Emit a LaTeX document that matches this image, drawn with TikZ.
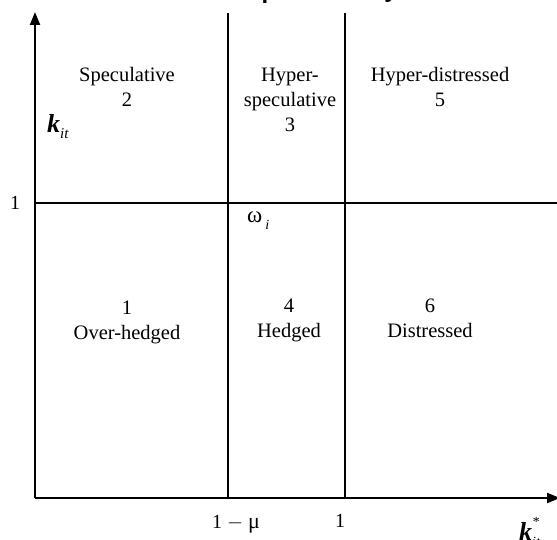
\documentclass[tikz,border=0pt]{standalone}
\usepackage{fontspec}
\setmainfont{Liberation Serif}
\newfontfamily\titlefont{Liberation Sans}
\usetikzlibrary{arrows.meta}
\begin{document}
\begin{tikzpicture}[x=1pt,y=-1pt,
  ax/.style={line width=2.2pt,-{Triangle[length=13pt,width=10pt]}},
  gl/.style={line width=2pt},
  lab/.style={font=\fontsize{20.5}{25}\selectfont,align=center,inner sep=0pt,anchor=base},
  tick/.style={font=\fontsize{20}{20}\selectfont,inner sep=0pt,anchor=base}]
\useasboundingbox (0,0) rectangle (557,540);
\begin{scope}
\clip (0,0) rectangle (557,8);
\node[font=\titlefont\bfseries\fontsize{24}{24}\selectfont,inner sep=0pt,anchor=base] (tp) at (269,-1) {p};
\node[font=\titlefont\bfseries\fontsize{24}{24}\selectfont,inner sep=0pt,anchor=base] (ty) at (391,-2) {y};
\end{scope}
\coordinate (o) at (35,498);
\coordinate (ytop) at (35,12);
\coordinate (xend) at (560,498);
\coordinate (v1t) at (228,13);
\coordinate (v1b) at (228,498);
\coordinate (v2t) at (345,13);
\coordinate (v2b) at (345,498);
\coordinate (hl) at (35,203);
\coordinate (hr) at (557,203);
\draw[ax] (o) -- (ytop);
\draw[ax] (o) -- (xend);
\draw[gl] (v1t) -- (v1b);
\draw[gl] (v2t) -- (v2b);
\draw[gl] (hl) -- (hr);
\node[tick] (one) at (15,210) {1};
\node[inner sep=0pt,anchor=base west] (kit) at (47,133) {\fontsize{26}{26}\selectfont\bfseries\itshape k\raisebox{-6pt}{\fontsize{15}{15}\selectfont\mdseries\itshape it}};
\node[tick] (omu) at (236,528) {1 $-$ \fontsize{22}{22}\selectfont μ};
\node[tick] (onex) at (340,527) {1};
\node[inner sep=0pt,anchor=base west] (kst) at (519,540) {\fontsize{26}{26}\selectfont\bfseries\itshape k\raisebox{14pt}{\fontsize{14}{14}\selectfont\mdseries *}\hspace{-7pt}\raisebox{-6pt}{\fontsize{14}{14}\selectfont\mdseries\itshape it}};
\node[inner sep=0pt,anchor=base west] (om) at (247,223) {\fontsize{23}{23}\selectfont ω\hspace{3pt}\raisebox{-6pt}{\fontsize{14}{14}\selectfont\itshape i}};
\node[lab] (r2) at (127,107) {Speculative\\2};
\node[lab] (r3) at (290,132) {Hyper-\\speculative\\3};
\node[lab] (r5) at (440,107) {Hyper-distressed\\5};
\node[lab] (r1) at (127,339) {1\\Over-hedged};
\node[lab] (r4) at (289,337) {4\\Hedged};
\node[lab] (r6) at (430,337) {6\\Distressed};
\end{tikzpicture}
\end{document}
